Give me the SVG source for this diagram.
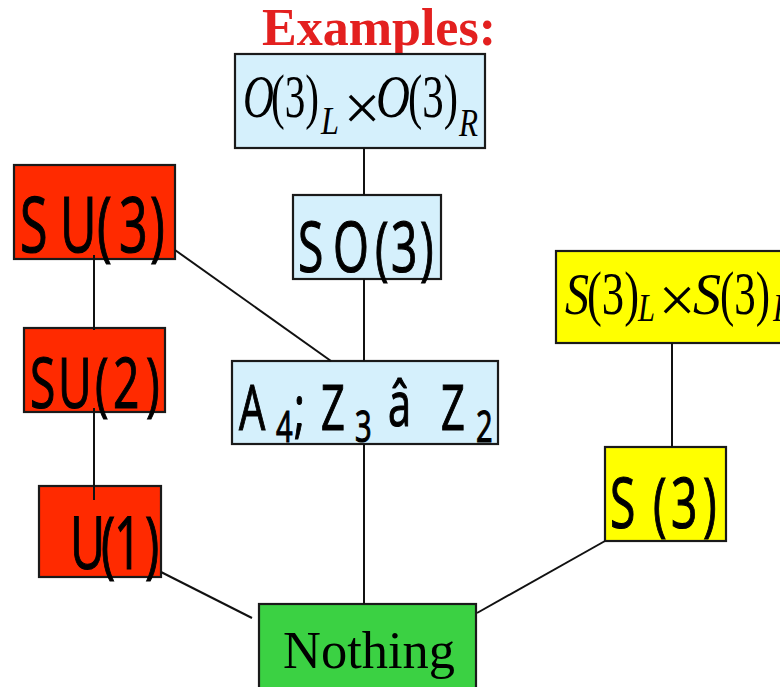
<svg xmlns="http://www.w3.org/2000/svg" width="780" height="687" viewBox="0 0 780 687">
<style>
.box{stroke:#1a1a1a;stroke-width:2.2}
.red{fill:#ff2a00}
.blue{fill:#d5f0fc}
.yel{fill:#ffff00}
.grn{fill:#3bd143}
.sans{font-family:"Open Sans","DejaVu Sans",sans-serif;fill:#000;stroke:#000;stroke-width:1.2}
.ser{font-family:"Liberation Serif","Times New Roman",serif;fill:#000}
.it{font-style:italic}
.conn line{stroke:#111;stroke-width:2}
</style>
<rect width="780" height="687" fill="#fff"/>
<text class="ser" x="262" y="45" font-size="52" font-weight="bold" style="fill:#e3201f" textLength="234" lengthAdjust="spacingAndGlyphs">Examples:</text>

<g id="node-o3o3">
<rect class="box blue" x="235" y="54" width="250" height="94"/>
<text class="ser it" x="243" y="117" font-size="61" textLength="31" lengthAdjust="spacingAndGlyphs">O</text>
<text class="ser" x="271" y="117" font-size="62" textLength="48" lengthAdjust="spacingAndGlyphs">(3)</text>
<text class="ser it" x="321" y="134" font-size="40" textLength="18" lengthAdjust="spacingAndGlyphs">L</text>
<text class="ser" x="362" y="130" font-size="66" text-anchor="middle">×</text>
<text class="ser it" x="376" y="117" font-size="61" textLength="34" lengthAdjust="spacingAndGlyphs">O</text>
<text class="ser" x="408" y="117" font-size="62" textLength="50" lengthAdjust="spacingAndGlyphs">(3)</text>
<text class="ser it" x="459" y="136" font-size="40" textLength="19" lengthAdjust="spacingAndGlyphs">R</text>
</g>

<g id="node-so3">
<rect class="box blue" x="293" y="195" width="148" height="84"/>
<text class="sans" transform="scale(0.66,1)" x="451.5 504.5 568.2 592.4 636.4" y="272" font-size="70">SO(3)</text>
</g>

<g id="node-a4">
<rect class="box blue" x="232" y="361" width="266" height="83"/>
<text class="sans" transform="scale(0.66,1)" font-size="63"><tspan x="362.1" y="430">A</tspan><tspan x="418.2" y="442" font-size="44">4</tspan><tspan x="445.5" y="430">;</tspan><tspan x="486.4" y="430">Z</tspan><tspan x="537.9" y="442" font-size="44">3</tspan><tspan x="587.9" y="426">â</tspan><tspan x="668.2" y="430">Z</tspan><tspan x="721.2" y="442" font-size="44">2</tspan></text>
</g>

<g id="node-su3">
<rect class="box red" x="14" y="165" width="161" height="94"/>
<text class="sans" transform="scale(0.66,1)" x="30.3 90.9 147 180.3 227.3" y="252" font-size="76">SU(3)</text>
</g>

<g id="node-su2">
<rect class="box red" x="24" y="328" width="141" height="84"/>
<text class="sans" transform="scale(0.66,1)" x="45.5 87.9 143.9 171.2 221.2" y="408" font-size="70">SU(2)</text>
</g>

<g id="node-u1">
<rect class="box red" x="39" y="486" width="122" height="91"/>
<text class="sans" transform="scale(0.66,1)" x="106.1 153 172.7 219.7" y="569" font-size="73">U(1)</text>
</g>

<g id="node-s3s3">
<rect class="box yel" x="556" y="251" width="240" height="92"/>
<text class="ser it" x="565" y="314" font-size="60" textLength="24" lengthAdjust="spacingAndGlyphs">S</text>
<text class="ser" x="587" y="314" font-size="62" textLength="52" lengthAdjust="spacingAndGlyphs">(3)</text>
<text class="ser it" x="638" y="321" font-size="40" textLength="17" lengthAdjust="spacingAndGlyphs">L</text>
<text class="ser" x="677" y="322" font-size="66" text-anchor="middle">×</text>
<text class="ser it" x="693" y="314" font-size="60" textLength="28" lengthAdjust="spacingAndGlyphs">S</text>
<text class="ser" x="720" y="314" font-size="62" textLength="50" lengthAdjust="spacingAndGlyphs">(3)</text>
<text class="ser it" x="773" y="321" font-size="40" textLength="19" lengthAdjust="spacingAndGlyphs">R</text>
</g>

<g id="node-s3">
<rect class="box yel" x="605" y="447" width="121" height="94"/>
<text class="sans" transform="scale(0.66,1)" x="924.2 989.4 1016.7 1065.2" y="528" font-size="70">S(3)</text>
</g>

<g id="node-nothing">
<rect class="box grn" x="259" y="604" width="217" height="100"/>
<text class="ser" x="283" y="668" font-size="52" textLength="172" lengthAdjust="spacingAndGlyphs">Nothing</text>
</g>

<g id="connectors" class="conn">
<line x1="364" y1="148" x2="364" y2="195"/>
<line x1="364" y1="279" x2="364" y2="361"/>
<line x1="175" y1="250" x2="331" y2="361"/>
<line x1="94" y1="255" x2="94" y2="330"/>
<line x1="94" y1="408" x2="94" y2="500"/>
<line x1="161" y1="572" x2="252" y2="618"/>
<line x1="364" y1="444" x2="364" y2="604"/>
<line x1="477" y1="613" x2="605" y2="541"/>
<line x1="672" y1="343" x2="672" y2="447"/>
</g>
</svg>
